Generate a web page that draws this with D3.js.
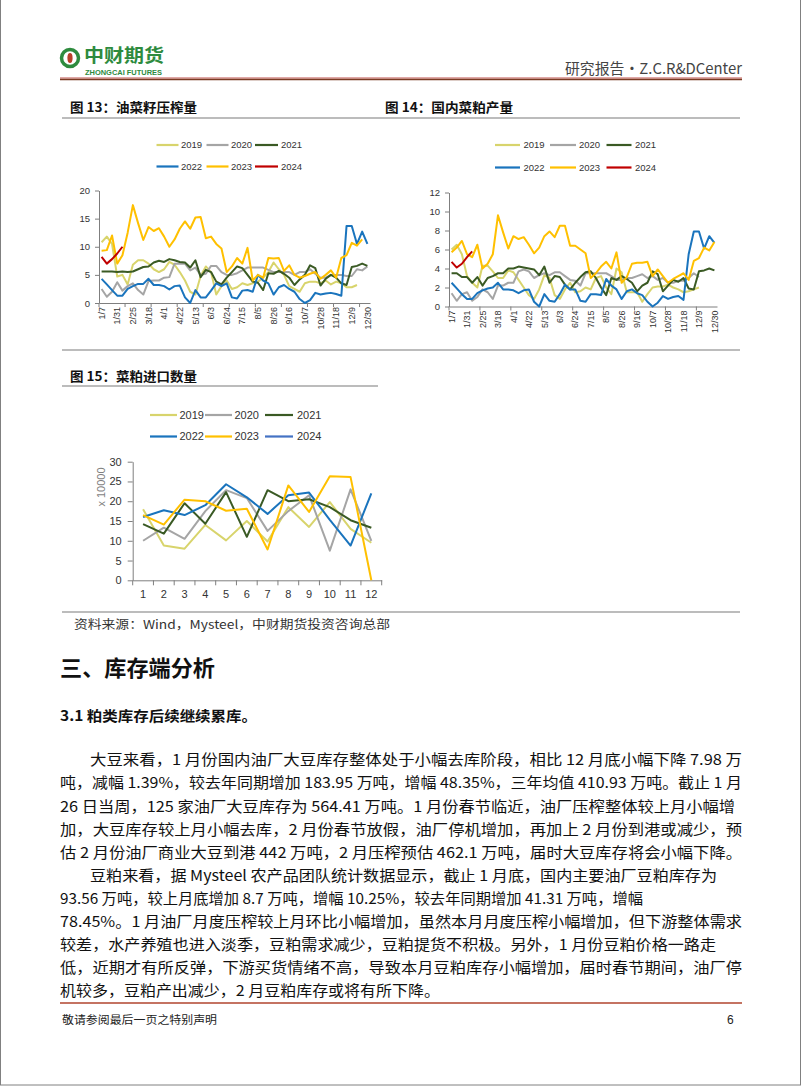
<!DOCTYPE html>
<html><head><meta charset="utf-8">
<script src="https://cdnjs.cloudflare.com/ajax/libs/d3/7.8.5/d3.min.js"></script>
<style>
html,body{margin:0;padding:0;background:#fff;}
svg{display:block;}
</style></head><body>
<svg id="page" width="802" height="1087"></svg>
<script>
// ---------------- DATA ----------------
const years = ["2019","2020","2021","2022","2023","2024"];
const weekTickLabels = ["1/7","1/31","2/25","3/18","4/1","4/22","5/13","6/3","6/24","7/15","8/5","8/26","9/16","10/7","10/28","11/18","12/9","12/30"];
const weekCount = 52;

// Fig 13: rapeseed crush (weekly)
const crush2019 = [10.8,11.8,10.5,4.7,5.0,3.3,6.8,7.6,7.6,7.0,6.0,5.5,6.0,7.3,6.8,5.5,4.0,2.0,1.5,4.8,6.5,5.5,1.5,3.0,4.0,2.5,2.8,3.5,3.2,3.5,3.8,4.5,5.5,7.2,6.0,5.0,3.0,2.5,2.0,3.5,3.8,3.8,3.5,4.0,3.3,3.8,3.5,2.8,2.8,3.2];
const crush2020 = [2.5,1.1,2.0,3.7,2.2,3.0,3.5,2.3,1.5,3.9,4.0,4.0,4.5,4.6,7.0,7.0,7.0,5.8,6.3,5.0,5.2,6.6,6.6,5.5,5.0,5.0,5.3,5.8,6.3,6.3,6.3,6.3,5.9,5.5,5.5,5.5,5.5,5.0,5.5,5.5,6.0,5.2,4.5,4.5,5.0,5.0,5.0,4.8,4.8,6.0,5.8,6.5];
const crush2021 = [5.6,5.6,5.6,5.5,5.6,5.5,5.6,6.0,6.4,6.5,7.2,7.5,7.3,7.8,7.6,7.3,7.2,6.3,7.6,4.6,5.9,5.5,3.8,3.3,4.5,5.5,6.5,6.2,5.0,3.8,3.6,2.3,5.3,5.2,5.7,5.2,4.5,3.2,4.2,5.0,6.7,6.2,3.1,4.3,5.0,4.5,3.5,3.2,6.4,6.6,7.0,6.6];
const crush2022 = [4.3,3.3,2.3,1.3,1.3,2.5,3.0,3.4,3.4,4.3,3.2,3.2,3.0,2.4,3.0,3.1,1.0,0.0,2.3,1.0,1.0,2.2,3.5,3.0,3.5,1.0,0.8,2.2,2.3,2.0,5.0,4.0,3.5,1.5,2.8,3.2,2.5,2.0,0.7,0.0,0.5,1.8,1.5,1.7,1.8,1.6,1.3,13.7,13.7,10.5,12.7,10.5];
const crush2023 = [9.3,9.4,12.0,7.0,8.5,12.5,17.4,14.2,11.2,13.5,12.8,13.3,11.8,10.0,11.3,13.2,14.5,13.2,15.2,15.3,11.5,11.8,10.5,9.7,5.5,6.5,8.0,7.0,9.8,4.0,5.0,4.5,8.0,7.9,8.0,5.7,6.7,5.0,4.5,4.8,5.2,5.5,4.3,5.0,5.8,4.5,8.0,8.5,10.7,10.2,11.3];
const crush2024 = [8.2,7.0,7.8,8.8,10.0];

// Fig 14: domestic rapeseed meal output (weekly)
const meal2019 = [6.0,6.5,5.5,3.2,2.5,2.0,4.3,4.3,3.7,3.0,3.0,3.8,3.6,2.8,2.0,1.2,0.8,1.8,3.3,3.0,1.2,0.8,1.8,2.5,1.5,1.6,2.0,1.8,3.0,3.2,2.0,1.3,4.0,3.6,1.5,1.5,1.5,0.5,1.3,2.0,2.1,2.1,2.3,2.0,1.8,1.5,1.6,1.8,2.0];
const meal2020 = [1.4,0.6,1.3,1.5,0.6,1.0,1.8,1.5,0.8,2.2,2.2,2.5,2.5,3.7,3.9,3.7,3.0,3.3,3.5,3.3,3.6,3.6,3.2,2.8,2.7,2.2,3.5,3.5,3.5,3.5,3.5,3.2,2.8,2.8,3.0,3.0,3.2,3.4,3.0,3.2,2.8,3.0,2.5,2.5,2.7,2.7,3.0,3.5,3.1];
const meal2021 = [3.5,3.5,3.1,3.1,2.5,3.1,2.2,3.0,3.2,3.5,3.5,4.0,4.0,4.2,4.1,4.0,3.9,3.3,4.2,2.5,3.2,3.1,2.3,1.8,2.5,3.1,3.6,3.7,3.0,2.0,1.2,3.0,2.8,3.2,2.9,2.5,1.6,2.2,2.5,3.7,3.4,1.6,2.2,2.8,2.6,3.0,1.9,1.8,3.7,3.8,4.0,3.8];
const meal2022 = [2.5,1.9,1.3,0.8,0.8,1.4,1.7,1.9,2.0,2.5,1.8,1.8,1.7,1.4,1.7,1.8,0.5,0.0,1.3,0.6,0.5,1.3,2.3,1.8,1.8,0.6,0.5,1.3,1.3,1.2,2.9,2.2,1.8,0.8,1.6,1.8,1.4,1.2,0.5,0.0,0.4,1.1,0.8,1.0,1.1,0.7,5.5,7.9,7.9,6.1,7.4,6.7];
const meal2023 = [5.7,6.2,6.9,5.5,5.2,6.5,4.0,4.5,5.5,9.6,7.8,6.1,7.4,7.1,7.3,6.5,5.6,6.2,7.4,7.9,7.3,8.5,8.5,6.4,6.4,6.0,5.6,3.0,3.5,4.2,4.7,4.0,5.7,2.5,3.1,4.5,4.6,4.6,4.7,3.2,3.9,3.2,2.5,2.9,3.2,3.5,2.8,4.8,5.1,6.2,5.9,6.8];
const meal2024 = [4.7,4.1,4.5,5.2,5.8];

// Fig 15: rapeseed meal imports (monthly, x 10000)
const months = ["1","2","3","4","5","6","7","8","9","10","11","12"];
const import2019 = [18.0,8.8,8.0,14.0,10.1,15.0,9.8,18.5,13.5,19.8,13.0,9.5];
const import2020 = [10.0,13.3,10.5,17.5,22.8,20.8,12.5,17.5,21.5,7.5,23.0,10.0];
const import2021 = [14.2,11.8,19.5,14.3,22.3,11.0,22.8,20.0,20.5,18.5,15.2,13.3];
const import2022 = [16.0,17.7,16.5,19.0,24.3,21.0,16.8,21.5,22.2,15.3,8.8,22.0];
const import2023 = [16.5,14.1,20.4,20.0,17.6,18.1,7.8,24.0,17.3,26.3,26.1,0.0];
const import2024 = [];

// text content
const para1 = [
  "大豆来看，1 月份国内油厂大豆库存整体处于小幅去库阶段，相比 12 月底小幅下降 7.98 万",
  "吨，减幅 1.39%，较去年同期增加 183.95 万吨，增幅 48.35%，三年均值 410.93 万吨。截止 1 月",
  "26 日当周，125 家油厂大豆库存为 564.41 万吨。1 月份春节临近，油厂压榨整体较上月小幅增",
  "加，大豆库存较上月小幅去库，2 月份春节放假，油厂停机增加，再加上 2 月份到港或减少，预",
  "估 2 月份油厂商业大豆到港 442 万吨，2 月压榨预估 462.1 万吨，届时大豆库存将会小幅下降。"
];
const para2 = [
  "豆粕来看，据 Mysteel 农产品团队统计数据显示，截止 1 月底，国内主要油厂豆粕库存为",
  "93.56 万吨，较上月底增加 8.7 万吨，增幅 10.25%，较去年同期增加 41.31 万吨，增幅",
  "78.45%。1 月油厂月度压榨较上月环比小幅增加，虽然本月月度压榨小幅增加，但下游整体需求",
  "较差，水产养殖也进入淡季，豆粕需求减少，豆粕提货不积极。另外，1 月份豆粕价格一路走",
  "低，近期才有所反弹，下游买货情绪不高，导致本月豆粕库存小幅增加，届时春节期间，油厂停",
  "机较多，豆粕产出减少，2 月豆粕库存或将有所下降。"
];

// ---------------- STYLE ----------------
const yearColors = ["#D8D46C","#A5A5A5","#3A5A24","#1A74BD","#FFC000","#C00000"];
const importColors = ["#D8D46C","#A5A5A5","#3A5A24","#1A74BD","#FFC000","#4472C4"];
const CJK = "'Noto Sans CJK SC','Noto Sans',sans-serif";
const LAT = "'Liberation Sans',Arial,sans-serif";
const svg = d3.select("#page");

// page frame
svg.append("rect").attr("x",0.5).attr("y",-3).attr("width",800).attr("height",1088)
  .attr("fill","none").attr("stroke","#808080").attr("stroke-width",1);

// ---------- header ----------
const hdr = svg.append("g");
hdr.append("circle").attr("cx",70).attr("cy",58).attr("r",8.5).attr("fill","none")
  .attr("stroke","#2E8B3E").attr("stroke-width",3.5);
hdr.append("ellipse").attr("cx",70).attr("cy",58).attr("rx",2.6).attr("ry",5).attr("fill","#B8402A");
hdr.append("text").attr("x",84).attr("y",62).text("中财期货")
  .attr("font-family",CJK).attr("font-weight",700).attr("font-size",18).attr("fill","#2E8B3E")
  .attr("textLength",80).attr("lengthAdjust","spacingAndGlyphs");
hdr.append("text").attr("x",85).attr("y",75).text("ZHONGCAI FUTURES")
  .attr("font-family",LAT).attr("font-weight",700).attr("font-size",6.5).attr("fill","#2E8B3E")
  .attr("textLength",77).attr("lengthAdjust","spacingAndGlyphs");
hdr.append("text").attr("x",565).attr("y",74).text("研究报告•Z.C.R&DCenter")
  .attr("font-family",CJK).attr("font-size",15).attr("fill","#444")
  .attr("textLength",177).attr("lengthAdjust","spacingAndGlyphs");
hdr.append("line").attr("x1",60).attr("x2",742).attr("y1",78).attr("y2",78)
  .attr("stroke","#C0504D").attr("stroke-width",1);
hdr.append("line").attr("x1",60).attr("x2",742).attr("y1",79.5).attr("y2",79.5)
  .attr("stroke","#7A3A22").attr("stroke-width",1.5);

// ---------- table rules & titles ----------
function rule(x1,x2,y){
  svg.append("line").attr("x1",x1).attr("x2",x2).attr("y1",y).attr("y2",y)
    .attr("stroke","#A6A6A6").attr("stroke-width",1.5);
}
rule(62,740,118); rule(62,740,350); rule(62,378,386); rule(62,740,612);

function title(x,y,t,w){
  svg.append("text").attr("x",x).attr("y",y).text(t)
    .attr("font-family",CJK).attr("font-weight",700).attr("font-size",13).attr("fill","#111")
    .attr("textLength",w).attr("lengthAdjust","spacingAndGlyphs");
}
title(70,112,"图 13：油菜籽压榨量",127);
title(385,112,"图 14：国内菜粕产量",128);
title(70,381,"图 15：菜粕进口数量",127);

// ---------- legend ----------
function legend(g, names, colors, rows, cols, fs){
  names.forEach((nm,i)=>{
    const r = rows[Math.floor(i/3)], c = cols[i%3];
    g.append("line").attr("x1",c[0]).attr("x2",c[1]).attr("y1",r).attr("y2",r)
      .attr("stroke",colors[i]).attr("stroke-width",2.2);
    g.append("text").attr("x",c[2]).attr("y",r).attr("dy","0.35em").text(nm)
      .attr("font-family",LAT).attr("font-size",fs).attr("fill","#333");
  });
}

// ---------- weekly chart ----------
function weeklyChart(cfg){
  const g = svg.append("g");
  const x = d3.scaleBand().domain(d3.range(weekCount)).range([cfg.x0,cfg.x1]);
  const y = d3.scaleLinear().domain([0,cfg.yMax]).range([cfg.y0,cfg.y1]);
  const ya = g.append("g").attr("transform",`translate(${cfg.x0},0)`)
    .call(d3.axisLeft(y).tickValues(d3.range(0,cfg.yMax+0.001,cfg.yStep)).tickSize(4).tickSizeOuter(0).tickPadding(5));
  ya.selectAll("path,line").attr("stroke","#7F7F7F");
  ya.selectAll("text").attr("font-family",LAT).attr("font-size",9.5).attr("fill","#333");
  const xa = g.append("g").attr("transform",`translate(0,${cfg.y0})`)
    .call(d3.axisBottom(x).tickValues(d3.range(0,weekCount,3)).tickFormat(i=>weekTickLabels[i/3]).tickSize(0).tickSizeOuter(0));
  xa.select("path").attr("stroke","#7F7F7F");
  xa.selectAll("text").attr("transform","rotate(-90)").attr("text-anchor","end")
    .attr("x",-4).attr("y",0).attr("dy","0.35em")
    .attr("font-family",LAT).attr("font-size",9).attr("fill","#333");
  g.append("g").selectAll("line").data(d3.range(0,weekCount+1,cfg.tickEvery)).join("line")
    .attr("x1",k=>cfg.x0+k*x.step()).attr("x2",k=>cfg.x0+k*x.step())
    .attr("y1",cfg.y0).attr("y2",cfg.y0+4).attr("stroke","#7F7F7F");
  const line = d3.line().x((d,i)=>x(i)+x.bandwidth()/2).y(d=>y(d));
  cfg.series.forEach((s,i)=>{
    if(!s.length) return;
    g.append("path").attr("d",line(s)).attr("fill","none").attr("stroke",yearColors[i])
      .attr("stroke-width",2).attr("stroke-linejoin","round");
  });
  legend(g, years, yearColors, cfg.legRows, cfg.legCols, 9.5);
}

weeklyChart({x0:99,x1:370,y0:303,y1:190.5,yMax:20,yStep:5,tickEvery:5,
  series:[crush2019,crush2020,crush2021,crush2022,crush2023,crush2024],
  legRows:[145,166.5],legCols:[[156.5,178.5,181],[206.5,228.5,231],[255,278,281]]});
weeklyChart({x0:449,x1:717,y0:306.5,y1:192.5,yMax:12,yStep:2,tickEvery:6,
  series:[meal2019,meal2020,meal2021,meal2022,meal2023,meal2024],
  legRows:[145,167.5],legCols:[[495,520,523.5],[550,576,579],[606.5,631.5,635]]});

// ---------- monthly chart (fig 15) ----------
(function(){
  const g = svg.append("g");
  const x0=132.7, x1=381.7, y0=580.3, y1=461.7;
  const x = d3.scaleBand().domain(months).range([x0,x1]);
  const y = d3.scaleLinear().domain([0,30]).range([y0,y1]);
  const ya = g.append("g").attr("transform",`translate(${x0},0)`)
    .call(d3.axisLeft(y).tickValues(d3.range(0,31,5)).tickSize(5).tickSizeOuter(0).tickPadding(6));
  ya.selectAll("path,line").attr("stroke","#7F7F7F");
  ya.selectAll("text").attr("font-family",LAT).attr("font-size",11).attr("fill","#333");
  const xa = g.append("g").attr("transform",`translate(0,${y0})`)
    .call(d3.axisBottom(x).tickSize(0).tickSizeOuter(0).tickPadding(10));
  xa.select("path").attr("stroke","#7F7F7F");
  xa.selectAll("text").attr("font-family",LAT).attr("font-size",11).attr("fill","#333");
  g.append("g").selectAll("line").data(d3.range(months.length+1)).join("line")
    .attr("x1",k=>x0+k*x.step()).attr("x2",k=>x0+k*x.step())
    .attr("y1",y0).attr("y2",y0+5).attr("stroke","#7F7F7F");
  g.append("text").attr("transform",`translate(101,487) rotate(-90)`).attr("text-anchor","middle")
    .attr("dy","0.35em").text("x 10000").attr("font-family",LAT).attr("font-size",11).attr("fill","#7F7F7F");
  const line = d3.line().x((d,i)=>x(months[i])+x.bandwidth()/2).y(d=>y(d));
  [import2019,import2020,import2021,import2022,import2023,import2024].forEach((s,i)=>{
    if(!s.length) return;
    g.append("path").attr("d",line(s)).attr("fill","none").attr("stroke",importColors[i])
      .attr("stroke-width",2).attr("stroke-linejoin","round");
  });
  legend(g, years, importColors, [415,436.5], [[150,177,179.5],[205,232,234.5],[265,293,297]], 11);
})();

// ---------- text below ----------
svg.append("text").attr("x",74).attr("y",629).text("资料来源：Wind，Mysteel，中财期货投资咨询总部")
  .attr("font-family",CJK).attr("font-size",12).attr("fill","#333")
  .attr("textLength",316).attr("lengthAdjust","spacingAndGlyphs");
svg.append("text").attr("x",60).attr("y",676).text("三、库存端分析")
  .attr("font-family",CJK).attr("font-weight",700).attr("font-size",22).attr("fill","#111")
  .attr("textLength",155).attr("lengthAdjust","spacingAndGlyphs");
svg.append("text").attr("x",60).attr("y",721).text("3.1 粕类库存后续继续累库。")
  .attr("font-family",CJK).attr("font-weight",700).attr("font-size",14).attr("fill","#111")
  .attr("textLength",197).attr("lengthAdjust","spacingAndGlyphs");

function para(lines, ys, xs, ends){
  lines.forEach((t,i)=>{
    svg.append("text").attr("x",xs[i]).attr("y",ys[i]+5.5).text(t)
      .attr("font-family",CJK).attr("font-size",15).attr("fill","#111")
      .attr("textLength",ends[i]-xs[i]).attr("lengthAdjust","spacingAndGlyphs");
  });
}
para(para1,[759,782,806,829,852],[90,60,60,60,60],[742,742,735,742,742]);
para(para2,[875,898,921,944,967,990],[90,60,60,60,60,60],[717,643,742,716,742,440]);

// footer
svg.append("line").attr("x1",60).attr("x2",742).attr("y1",1003).attr("y2",1003)
  .attr("stroke","#B0452E").attr("stroke-width",1.5);
svg.append("text").attr("x",62).attr("y",1024).text("敬请参阅最后一页之特别声明")
  .attr("font-family",CJK).attr("font-size",11).attr("fill","#222")
  .attr("textLength",155).attr("lengthAdjust","spacingAndGlyphs");
svg.append("text").attr("x",727).attr("y",1024).text("6")
  .attr("font-family",LAT).attr("font-size",12).attr("fill","#222");
</script>
</body></html>
